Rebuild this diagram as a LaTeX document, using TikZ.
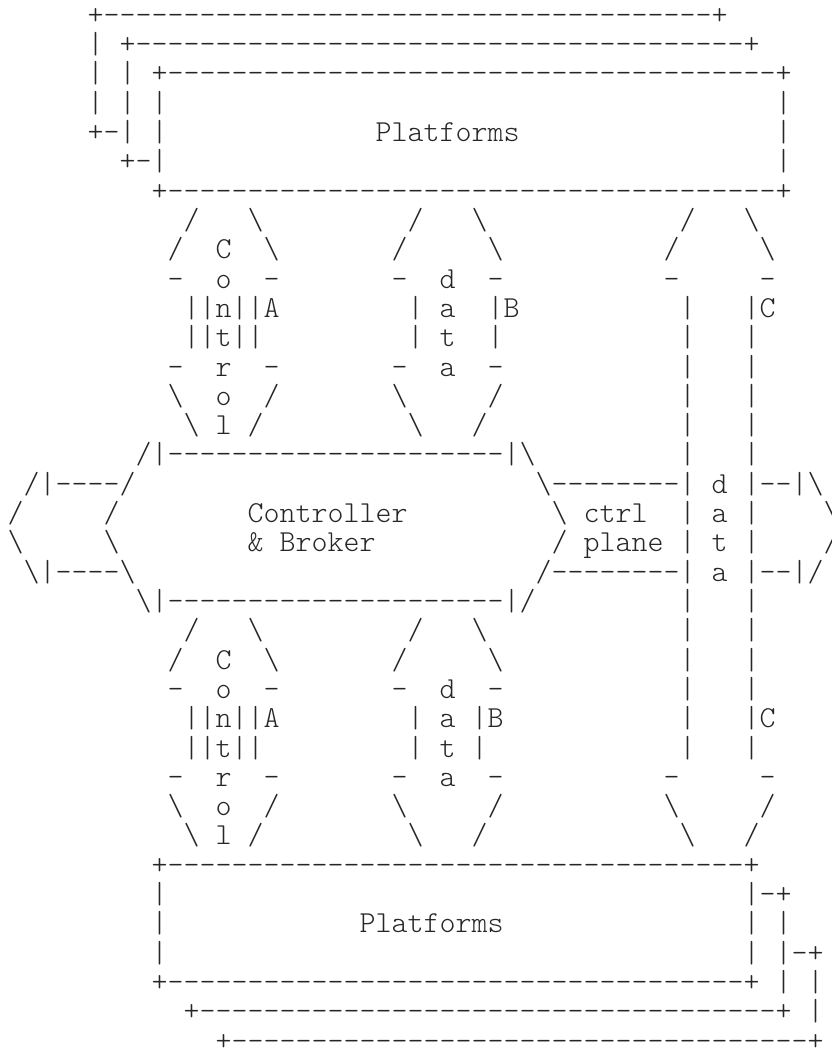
\documentclass[tikz,border=0pt]{standalone}
\usepackage{fontspec}
\newfontfamily\asc{lmmonolt10-regular}[Extension=.otf,Ligatures=TeXOff]
\ExplSyntaxOn
\cs_new:Npn \SP #1 { \prg_replicate:nn {#1} { \nobreakspace } }
\cs_new:Npn \DA #1 { \prg_replicate:nn {#1} { - } }
\ExplSyntaxOff
\newcommand\bsl{\textbackslash}
\tikzset{asctext/.style={font=\asc\fontsize{30.476}{29.31}\selectfont, inner sep=0pt, outer sep=0pt, anchor=base west, text=black!85}}
\newcommand\asrow[2]{\node[asctext] (r#1) at (-8.3,{-(24.3+29.31*#1)}) {\frenchspacing #2};}
\begin{document}
\begin{tikzpicture}[x=1pt,y=1pt]
\useasboundingbox (0,0) rectangle (831,-1048);
\asrow{0}{\SP{6}+\DA{38}+}
\asrow{1}{\SP{6}|~+\DA{38}+}
\asrow{2}{\SP{6}|~|~+\DA{38}+}
\asrow{3}{\SP{6}|~|~|\SP{38}|}
\asrow{4}{\SP{6}+-|~|\SP{13}Platforms\SP{16}|}
\asrow{5}{\SP{8}+-|\SP{38}|}
\asrow{6}{\SP{10}+\DA{38}+}
\asrow{7}{\SP{12}/\SP{3}\bsl\SP{9}/\SP{3}\bsl\SP{12}/\SP{3}\bsl}
\asrow{8}{\SP{11}/\SP{2}C\SP{2}\bsl\SP{7}/\SP{5}\bsl\SP{10}/\SP{5}\bsl}
\asrow{9}{\SP{11}-\SP{2}o\SP{2}-\SP{7}-\SP{2}d\SP{2}-\SP{10}-\SP{5}-}
\asrow{10}{\SP{12}||n||A\SP{8}|~a\SP{2}|B\SP{10}|\SP{3}|C}
\asrow{11}{\SP{12}||t||\SP{9}|~t\SP{2}|\SP{11}|\SP{3}|}
\asrow{12}{\SP{11}-\SP{2}r\SP{2}-\SP{7}-\SP{2}a\SP{2}-\SP{11}|\SP{3}|}
\asrow{13}{\SP{11}\bsl\SP{2}o\SP{2}/\SP{7}\bsl\SP{5}/\SP{11}|\SP{3}|}
\asrow{14}{\SP{12}\bsl~l~/\SP{9}\bsl\SP{3}/\SP{12}|\SP{3}|}
\asrow{15}{\SP{9}/|\DA{21}|\bsl\SP{9}|\SP{3}|}
\asrow{16}{\SP{2}/|\DA{4}/\SP{25}\bsl\DA{8}|~d~|--|\bsl}
\asrow{17}{~/\SP{5}/\SP{8}Controller\SP{9}\bsl~ctrl\SP{2}|~a~|\SP{4}\bsl}
\asrow{18}{~\bsl\SP{5}\bsl\SP{8}\&~Broker\SP{11}/~plane~|~t~|\SP{4}/}
\asrow{19}{\SP{2}\bsl|\DA{4}\bsl\SP{25}/\DA{8}|~a~|--|/}
\asrow{20}{\SP{9}\bsl|\DA{21}|/\SP{9}|\SP{3}|}
\asrow{21}{\SP{12}/\SP{3}\bsl\SP{9}/\SP{3}\bsl\SP{12}|\SP{3}|}
\asrow{22}{\SP{11}/\SP{2}C\SP{2}\bsl\SP{7}/\SP{5}\bsl\SP{11}|\SP{3}|}
\asrow{23}{\SP{11}-\SP{2}o\SP{2}-\SP{7}-\SP{2}d\SP{2}-\SP{11}|\SP{3}|}
\asrow{24}{\SP{12}||n||A\SP{8}|~a~|B\SP{11}|\SP{3}|C}
\asrow{25}{\SP{12}||t||\SP{9}|~t~|\SP{12}|\SP{3}|}
\asrow{26}{\SP{11}-\SP{2}r\SP{2}-\SP{7}-\SP{2}a\SP{2}-\SP{10}-\SP{5}-}
\asrow{27}{\SP{11}\bsl\SP{2}o\SP{2}/\SP{7}\bsl\SP{5}/\SP{10}\bsl\SP{5}/}
\asrow{28}{\SP{12}\bsl~l~/\SP{9}\bsl\SP{3}/\SP{12}\bsl\SP{3}/}
\asrow{29}{\SP{10}+\DA{36}+}
\asrow{30}{\SP{10}|\SP{36}|-+}
\asrow{31}{\SP{10}|\SP{12}Platforms\SP{15}|~|}
\asrow{32}{\SP{10}|\SP{36}|~|-+}
\asrow{33}{\SP{10}+\DA{36}+~|~|}
\asrow{34}{\SP{12}+\DA{36}+~|}
\asrow{35}{\SP{14}+\DA{36}+}
\end{tikzpicture}
\end{document}
